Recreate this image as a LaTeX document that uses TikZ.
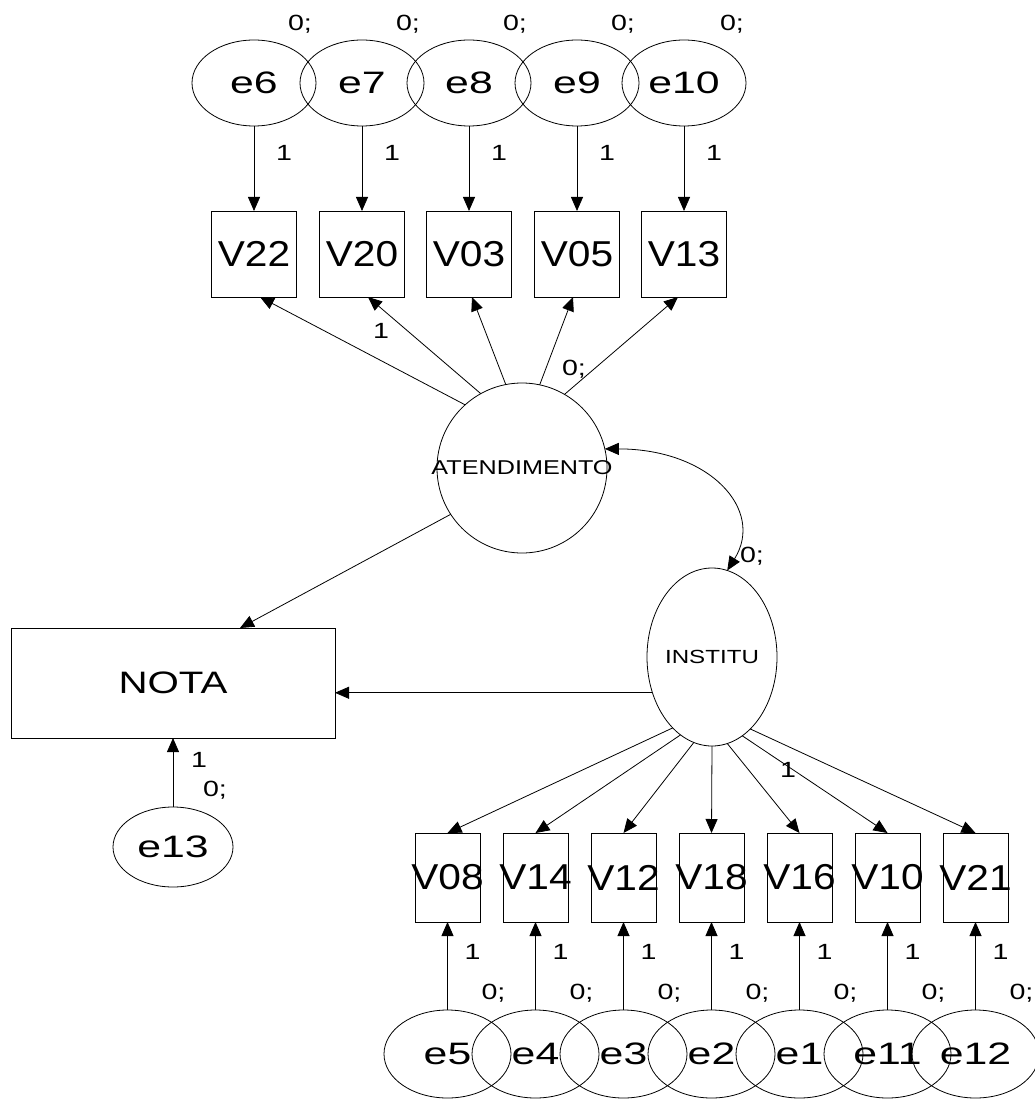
\documentclass[tikz,border=0pt]{standalone}
\usepackage{fontspec}
\setmainfont{Liberation Sans}
\usepackage{graphicx}
\usetikzlibrary{arrows.meta,shapes.geometric}
\newcommand{\stx}[3]{\makebox[0pt]{\scalebox{#2}[1]{\fontsize{#1}{#1}\selectfont #3}}}
\newcommand{\boxt}[1]{\stx{36}{1.13}{#1}}
\newcommand{\errt}[1]{\stx{31}{1.38}{#1}}
\newcommand{\smt}[1]{\stx{22}{1.3}{#1}}
\begin{document}
\begin{tikzpicture}[x=1pt,y=-1pt,
  every node/.style={inner sep=0pt,outer sep=0pt},
  topbox/.style={draw,line width=0.8pt,minimum width=85pt,minimum height=86pt},
  botbox/.style={draw,line width=0.8pt,minimum width=65pt,minimum height=89pt},
  toperr/.style={draw,ellipse,line width=0.8pt,minimum width=124pt,minimum height=86pt},
  boterr/.style={draw,ellipse,line width=0.8pt,minimum width=127pt,minimum height=88pt},
  lbl/.style={anchor=center},
  arr/.style={-{Triangle[length=14pt,width=12pt]},line width=0.8pt},
  darr/.style={{Triangle[length=14pt,width=12pt]}-{Triangle[length=14pt,width=12pt]},line width=0.8pt}]
\useasboundingbox (0,0) rectangle (1034,1099);
% top error terms
\node[toperr] (e6)  at (254,83) {\errt{e6}};
\node[toperr] (e7)  at (362,83) {\errt{e7}};
\node[toperr] (e8)  at (469,83) {\errt{e8}};
\node[toperr] (e9)  at (577,83) {\errt{e9}};
\node[toperr] (e10) at (684,83) {\errt{e10}};
% top indicators
\node[topbox] (v22) at (254,254) {\boxt{V22}};
\node[topbox] (v20) at (362,254) {\boxt{V20}};
\node[topbox] (v03) at (469,254) {\boxt{V03}};
\node[topbox] (v05) at (577,254) {\boxt{V05}};
\node[topbox] (v13) at (684,254) {\boxt{V13}};
% latent
\node[draw,circle,line width=0.8pt,minimum size=170pt] (atend) at (522,468) {\stx{20}{1.26}{ATENDIMENTO}};
\node[draw,ellipse,line width=0.8pt,minimum width=130pt,minimum height=178pt] (inst) at (712,657) {\stx{19}{1.27}{INSTITU}};
% outcome
\node[draw,line width=0.8pt,minimum width=324pt,minimum height=110pt] (nota) at (173,683) {\stx{31}{1.3}{NOTA}};
\node[draw,ellipse,line width=0.8pt,minimum width=120pt,minimum height=80pt] (e13) at (173,847) {\errt{e13}};
% bottom indicators
\node[botbox] (v08) at (447.5,877.5) {\boxt{V08}};
\node[botbox] (v14) at (535.5,877.5) {\boxt{V14}};
\node[botbox] (v12) at (623.5,877.5) {\boxt{V12}};
\node[botbox] (v18) at (711.5,877.5) {\boxt{V18}};
\node[botbox] (v16) at (799.5,877.5) {\boxt{V16}};
\node[botbox] (v10) at (887.5,877.5) {\boxt{V10}};
\node[botbox] (v21) at (975.5,877.5) {\boxt{V21}};
% bottom error terms
\node[boterr] (e5)  at (447.5,1054) {\errt{e5}};
\node[boterr] (e4)  at (535.5,1054) {\errt{e4}};
\node[boterr] (e3)  at (623.5,1054) {\errt{e3}};
\node[boterr] (e2)  at (711.5,1054) {\errt{e2}};
\node[boterr] (e1)  at (799.5,1054) {\errt{e1}};
\node[boterr] (e11) at (887.5,1054) {\errt{e11}};
\node[boterr] (e12) at (975.5,1054) {\errt{e12}};
% top error arrows
\draw[arr] (e6) -- (v22);
\draw[arr] (e7) -- (v20);
\draw[arr] (e8) -- (v03);
\draw[arr] (e9) -- (v05);
\draw[arr] (e10) -- (v13);
% loadings atendimento
\draw[arr] (atend.132) -- ([xshift=6pt]v22.south);
\draw[arr] (atend.119) -- ([xshift=6pt]v20.south);
\draw[arr] (atend.101) -- ([xshift=3pt]v03.south);
\draw[arr] (atend.78) -- ([xshift=-4pt]v05.south);
\draw[arr] (atend.60) -- ([xshift=-6pt]v13.south);
% structural
\draw[arr] (atend.213) -- ([xshift=67pt]nota.north);
\draw[arr] (inst.211) -- (inst.211 -| nota.east);
\draw[arr] (e13) -- (nota);
\draw[darr] (atend.13) .. controls (710,449) and (765,510) .. (inst.80);
% loadings institu
\draw[arr] (inst.241) -- (v08.north);
\draw[arr] (inst.248) -- (v14.north);
\draw[arr] (inst.258) -- (v12.north);
\draw[arr] (inst.270) -- (v18.north);
\draw[arr] (inst.280.5) -- (v16.north);
\draw[arr] (inst.291) -- (v10.north);
\draw[arr] (inst.298.5) -- (v21.north);
% bottom error arrows
\draw[arr] (e5) -- (v08);
\draw[arr] (e4) -- (v14);
\draw[arr] (e3) -- (v12);
\draw[arr] (e2) -- (v18);
\draw[arr] (e1) -- (v16);
\draw[arr] (e11) -- (v10);
\draw[arr] (e12) -- (v21);
% labels top
\node[lbl] (t0a) at (300,24) {\smt{0;}};
\node[lbl] (t0b) at (408,24) {\smt{0;}};
\node[lbl] (t0c) at (515,24) {\smt{0;}};
\node[lbl] (t0d) at (623,24) {\smt{0;}};
\node[lbl] (t0e) at (732,24) {\smt{0;}};
\node[lbl] (t1a) at (284,153) {\smt{1}};
\node[lbl] (t1b) at (392,153) {\smt{1}};
\node[lbl] (t1c) at (499,153) {\smt{1}};
\node[lbl] (t1d) at (607,153) {\smt{1}};
\node[lbl] (t1e) at (714,153) {\smt{1}};
\node[lbl] (m1) at (381,331) {\smt{1}};
\node[lbl] (m0) at (574,369) {\smt{0;}};
\node[lbl] (c0) at (752,556) {\smt{0;}};
\node[lbl] (i1) at (788,770) {\smt{1}};
\node[lbl] (n1) at (199,760) {\smt{1}};
\node[lbl] (n0) at (215,790) {\smt{0;}};
% labels bottom
\foreach \xx [count=\i] in {447.5,535.5,623.5,711.5,799.5,887.5,975.5}{
  \node[lbl] (b1\i) at (\xx+25,952) {\smt{1}};
  \node[lbl] (b0\i) at (\xx+46,993) {\smt{0;}};
}
\end{tikzpicture}
\end{document}
